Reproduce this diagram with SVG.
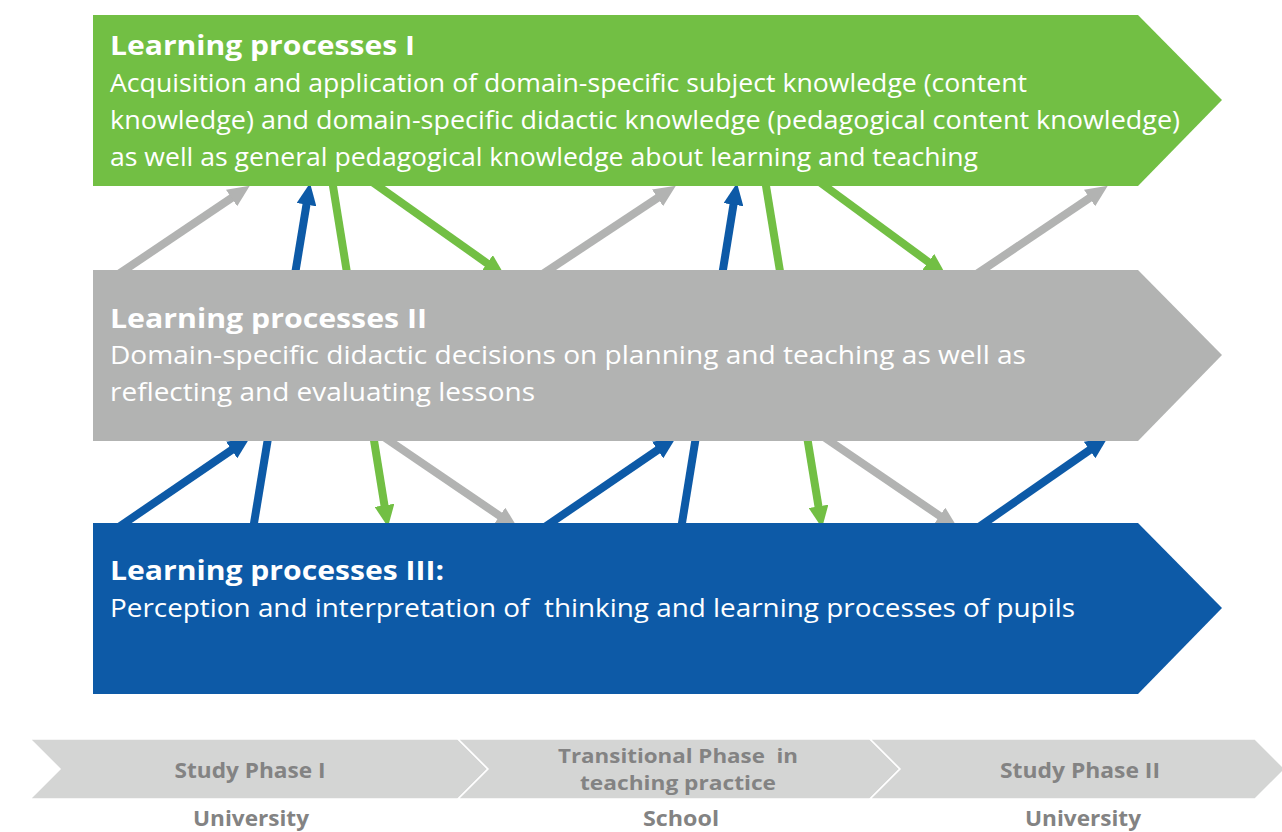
<svg xmlns="http://www.w3.org/2000/svg" width="1282" height="832" viewBox="0 0 1282 832">
<style>
.t{font-family:"Open Sans","Liberation Sans",sans-serif;fill:#fff}
.h{font-size:26px;font-weight:700}
.b{font-size:25px;font-weight:400}
.p{font-family:"Open Sans","Liberation Sans",sans-serif;font-weight:700;font-size:22px;fill:#838383;text-anchor:middle}
.p2{font-size:19.5px}
.lg{stroke:#b2b3b2;stroke-width:8;fill:none}
.lb{stroke:#0d5aa7;stroke-width:8;fill:none}
.ln{stroke:#72bf44;stroke-width:8;fill:none}
.ag{marker-end:url(#mg)}
.ab{marker-end:url(#mb)}
.an{marker-end:url(#mn)}
</style>
<defs>
<marker id="mg" viewBox="0 -5 11 10" refX="1" refY="0" markerWidth="2.75" markerHeight="2.5" orient="auto"><path d="M0,-5 L11,0 L0,5 z" fill="#b2b3b2"/></marker>
<marker id="mb" viewBox="0 -5 11 10" refX="1" refY="0" markerWidth="2.75" markerHeight="2.5" orient="auto"><path d="M0,-5 L11,0 L0,5 z" fill="#0d5aa7"/></marker>
<marker id="mn" viewBox="0 -5 11 10" refX="1" refY="0" markerWidth="2.75" markerHeight="2.5" orient="auto"><path d="M0,-5 L11,0 L0,5 z" fill="#72bf44"/></marker>
</defs>
<rect width="1282" height="832" fill="#fff"/>
<g id="connectors">
<path class="lg ag" d="M116.6,275.4 L233.2,196.9"/>
<path class="lb ab" d="M252.4,532.9 L306.8,202.7"/>
<path class="ln an" d="M331.4,176.1 L384.8,507.3"/>
<path class="ln an" d="M369.8,180.2 L488.7,264.4"/>
<path class="lg ag" d="M540.6,275.4 L659.2,196.8"/>
<path class="lb ab" d="M680.4,532.9 L733.8,202.7"/>
<path class="ln an" d="M764.4,176.1 L818.8,508.3"/>
<path class="ln an" d="M816.9,180.1 L929.9,263.1"/>
<path class="lg ag" d="M974.6,275.4 L1091.2,196.9"/>
<path class="lb ab" d="M116.6,528.5 L233.3,448.9"/>
<path class="lg ag" d="M381.6,435.5 L501.3,517"/>
<path class="lb ab" d="M542.6,528.5 L659.3,448.9"/>
<path class="lg ag" d="M821.6,435.5 L941.3,517"/>
<path class="lb ab" d="M976.7,528.5 L1091.3,448.9"/>
</g>
<g id="lp1">
<polygon points="93,15 1138,15 1222,100 1138,186 93,186" fill="#72bf44"/>
<text class="t h" x="110" y="55" textLength="305" lengthAdjust="spacingAndGlyphs">Learning processes I</text>
<text class="t b" x="110" y="92" textLength="917" lengthAdjust="spacingAndGlyphs">Acquisition and application of domain-specific subject knowledge (content</text>
<text class="t b" x="110" y="129" textLength="1070" lengthAdjust="spacingAndGlyphs">knowledge) and domain-specific didactic knowledge (pedagogical content knowledge)</text>
<text class="t b" x="110" y="166" textLength="868" lengthAdjust="spacingAndGlyphs">as well as general pedagogical knowledge about learning and teaching</text>
</g>
<g id="lp2">
<polygon points="93,270 1138,270 1222,355 1138,441 93,441" fill="#b2b3b2"/>
<text class="t h" x="110" y="328" textLength="317" lengthAdjust="spacingAndGlyphs">Learning processes II</text>
<text class="t b" x="110" y="364" textLength="916" lengthAdjust="spacingAndGlyphs">Domain-specific didactic decisions on planning and teaching as well as</text>
<text class="t b" x="110" y="401" textLength="425" lengthAdjust="spacingAndGlyphs">reflecting and evaluating lessons</text>
</g>
<g id="lp3">
<polygon points="93,523 1138,523 1222,608 1138,694 93,694" fill="#0d5aa7"/>
<text class="t h" x="110" y="580" textLength="334" lengthAdjust="spacingAndGlyphs">Learning processes III:</text>
<text class="t b" x="110" y="617" textLength="965" lengthAdjust="spacingAndGlyphs" xml:space="preserve">Perception and interpretation of  thinking and learning processes of pupils</text>
</g>
<g id="phase1">
<polygon points="30,739 458,739 488,769 458,799 30,799 60,769" fill="#d4d5d4" stroke="#fff" stroke-width="1.5"/>
<text class="p" x="250" y="778" textLength="151" lengthAdjust="spacingAndGlyphs">Study Phase I</text>
<text class="p" x="251" y="826" textLength="116" lengthAdjust="spacingAndGlyphs">University</text>
</g>
<g id="phase2">
<polygon points="458,739 870,739 900,769 870,799 458,799 488,769" fill="#d4d5d4" stroke="#fff" stroke-width="1.5"/>
<text class="p p2" x="678" y="763" textLength="240" lengthAdjust="spacingAndGlyphs" xml:space="preserve">Transitional Phase  in</text>
<text class="p p2" x="678" y="790" textLength="196" lengthAdjust="spacingAndGlyphs">teaching practice</text>
<text class="p" x="681" y="826" textLength="76" lengthAdjust="spacingAndGlyphs">School</text>
</g>
<g id="phase3">
<polygon points="870,739 1255,739 1285,769 1255,799 870,799 900,769" fill="#d4d5d4" stroke="#fff" stroke-width="1.5"/>
<text class="p" x="1080" y="778" textLength="160" lengthAdjust="spacingAndGlyphs">Study Phase II</text>
<text class="p" x="1083" y="826" textLength="116" lengthAdjust="spacingAndGlyphs">University</text>
</g>
</svg>
